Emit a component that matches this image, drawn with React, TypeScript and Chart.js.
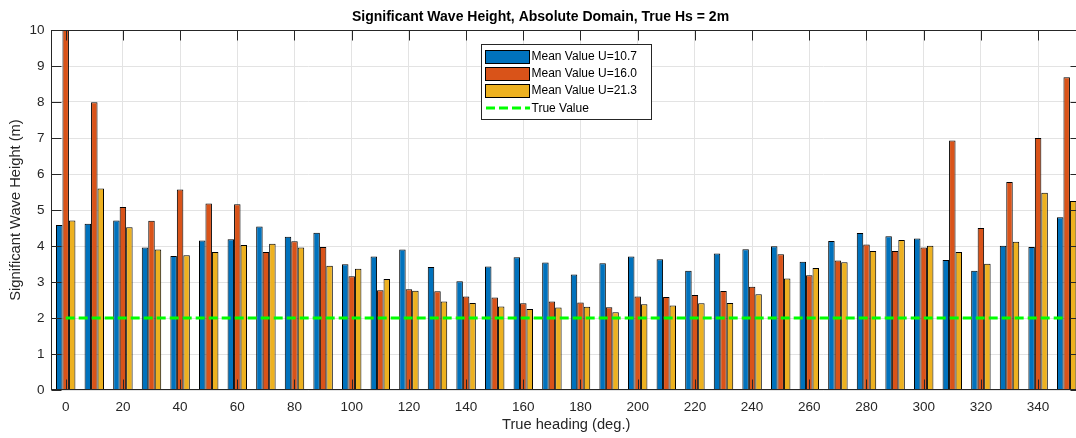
import React, { useEffect, useRef } from "react";
import { Chart, registerables } from "chart.js";

Chart.register(...registerables);

const headings = [0, 10, 20, 30, 40, 50, 60, 70, 80, 90, 100, 110, 120, 130, 140, 150, 160, 170, 180, 190, 200, 210, 220, 230, 240, 250, 260, 270, 280, 290, 300, 310, 320, 330, 340, 350];

const meanU107 = [4.58, 4.62, 4.71, 3.96, 3.72, 4.15, 4.19, 4.54, 4.26, 4.37, 3.49, 3.71, 3.9, 3.42, 3.02, 3.43, 3.69, 3.54, 3.21, 3.52, 3.71, 3.63, 3.31, 3.79, 3.91, 3.99, 3.56, 4.14, 4.36, 4.27, 4.21, 3.61, 3.31, 4.01, 3.97, 4.8];
const meanU160 = [10.2, 7.99, 5.08, 4.7, 5.57, 5.18, 5.16, 3.83, 4.13, 3.97, 3.16, 2.77, 2.8, 2.74, 2.6, 2.57, 2.41, 2.46, 2.43, 2.3, 2.6, 2.58, 2.64, 2.75, 2.87, 3.77, 3.19, 3.6, 4.04, 3.86, 3.96, 6.93, 4.5, 5.78, 7.0, 8.69];
const meanU213 = [4.71, 5.6, 4.52, 3.9, 3.74, 3.83, 4.03, 4.06, 3.96, 3.45, 3.37, 3.08, 2.76, 2.46, 2.42, 2.32, 2.25, 2.29, 2.31, 2.16, 2.38, 2.35, 2.41, 2.42, 2.66, 3.1, 3.39, 3.55, 3.86, 4.17, 4.01, 3.83, 3.51, 4.12, 5.48, 5.25];

const trueHeadings = [0, 350];
const trueValue = [2, 2];

const seriesLabels = ["Mean Value U=10.7", "Mean Value U=16.0", "Mean Value U=21.3", "True Value"];
const xTicks = [0, 20, 40, 60, 80, 100, 120, 140, 160, 180, 200, 220, 240, 260, 280, 300, 320, 340];
const yTicks = [0, 1, 2, 3, 4, 5, 6, 7, 8, 9, 10];

const FONT = "'Liberation Sans', Arial, Helvetica, sans-serif";
const AXIS = "#262626";
const COLORS = ["#0072BD", "#D95319", "#EDB120"];
const GREEN = "#00FF00";

const boxPlugin = {
  id: "matlabBox",
  afterDraw(chart: any) {
    const { ctx, chartArea } = chart;
    const { left, right, top, bottom } = chartArea;
    ctx.save();
    ctx.strokeStyle = AXIS;
    ctx.lineWidth = 1;
    ctx.setLineDash([]);
    const L = Math.round(left) + 0.5;
    const R = Math.round(right) - 0.5;
    const T = Math.round(top) + 0.5;
    const B = Math.round(bottom) - 0.5;
    ctx.strokeRect(L, T, R - L, B - T);
    const xs = chart.scales.x;
    const ys = chart.scales.y;
    ctx.beginPath();
    xs.ticks.forEach((t: any) => {
      const p = Math.round(xs.getPixelForValue(t.value)) + 0.5;
      ctx.moveTo(p, B);
      ctx.lineTo(p, B - 10);
      ctx.moveTo(p, T);
      ctx.lineTo(p, T + 10);
    });
    ys.ticks.forEach((t: any) => {
      const p = Math.round(ys.getPixelForValue(t.value)) + 0.5;
      ctx.moveTo(L, p);
      ctx.lineTo(L + 10, p);
      ctx.moveTo(R, p);
      ctx.lineTo(R - 10, p);
    });
    ctx.stroke();

    // legend
    const bx = 481.5, by = 44.5, bw = 170, bh = 75;
    ctx.fillStyle = "#ffffff";
    ctx.fillRect(bx, by, bw, bh);
    ctx.strokeStyle = AXIS;
    ctx.strokeRect(bx, by, bw, bh);
    const dsets = chart.data.datasets;
    const row0 = 56;
    const step = 17.3;
    ctx.font = `12px ${FONT}`;
    ctx.textBaseline = "middle";
    ctx.textAlign = "left";
    dsets.forEach((d: any, i: number) => {
      const cy = row0 + i * step;
      if (d.type === "bar") {
        ctx.fillStyle = d.backgroundColor;
        ctx.fillRect(485.5, Math.round(cy - 6.5) + 0.5, 44, 13);
        ctx.strokeStyle = "#000";
        ctx.lineWidth = 1;
        ctx.strokeRect(485.5, Math.round(cy - 6.5) + 0.5, 44, 13);
      } else {
        ctx.strokeStyle = d.borderColor;
        ctx.lineWidth = 3;
        ctx.setLineDash([9, 4]);
        ctx.beginPath();
        ctx.moveTo(486, Math.round(cy));
        ctx.lineTo(530, Math.round(cy));
        ctx.stroke();
        ctx.setLineDash([]);
      }
      ctx.fillStyle = "#000";
      ctx.fillText(d.label, 531.5, cy + 0.5);
    });
    ctx.restore();
  },
};

export default function App() {
  const ref = useRef<HTMLCanvasElement>(null);
  useEffect(() => {
    if (!ref.current) return;
    Chart.defaults.font.family = FONT;
    const barDs = [meanU107, meanU160, meanU213].map((vals, i) => ({
      type: "bar" as const,
      label: seriesLabels[i],
      data: headings.map((h, j) => ({ x: h, y: vals[j] })),
      backgroundColor: COLORS[i],
      borderColor: "#000000",
      borderWidth: 1,
      borderSkipped: "start" as const,
      barPercentage: 1.0,
      categoryPercentage: 0.68,
      order: 1,
    }));
    const lineDs = {
      type: "line" as const,
      label: seriesLabels[3],
      data: trueHeadings.map((h, j) => ({ x: h, y: trueValue[j] })),
      borderColor: GREEN,
      backgroundColor: GREEN,
      borderWidth: 3,
      borderDash: [9, 4],
      pointRadius: 0,
      fill: false,
      order: 0,
    };
    const chart = new Chart(ref.current, {
      type: "bar",
      data: { datasets: [...barDs, lineDs] as any },
      options: {
        animation: false,
        responsive: false,
        devicePixelRatio: 1,
        layout: { padding: 0 },
        plugins: {
          legend: { display: false },
          tooltip: { enabled: false },
          title: {
            display: true,
            text: "Significant Wave Height, Absolute Domain, True Hs = 2m",
            color: "#000",
            font: { size: 14, weight: "bold", family: FONT },
            padding: { top: 9, bottom: 4.2 },
          },
        },
        scales: {
          x: {
            type: "linear",
            offset: false,
            min: -5,
            max: 355,
            afterFit: (s: any) => {
              s.height = 48;
            },
            afterBuildTicks: (s: any) => {
              s.ticks = xTicks.map((v) => ({ value: v }));
            },
            ticks: {
              color: AXIS,
              font: { size: 13.5, family: FONT },
              padding: 9,
              maxRotation: 0,
              autoSkip: false,
              callback: (v: any) => String(v),
            },
            grid: { color: "#e3e3e3", lineWidth: 1, drawTicks: false, offset: false },
            border: { display: false },
            title: {
              display: true,
              text: "True heading (deg.)",
              color: AXIS,
              font: { size: 14.7, family: FONT },
              padding: { top: 0, bottom: 4 },
            },
          },
          y: {
            type: "linear",
            min: 0,
            max: 10,
            afterFit: (s: any) => {
              s.width = 51.4;
            },
            afterBuildTicks: (s: any) => {
              s.ticks = yTicks.map((v) => ({ value: v }));
            },
            ticks: {
              color: AXIS,
              font: { size: 13.5, family: FONT },
              padding: 7,
              callback: (v: any) => String(v),
            },
            grid: { color: "#e3e3e3", lineWidth: 1, drawTicks: false },
            border: { display: false },
            title: {
              display: true,
              text: "Significant Wave Height (m)",
              color: AXIS,
              font: { size: 14.7, family: FONT },
              padding: { top: 7, bottom: 0 },
            },
          },
        },
      } as any,
      plugins: [boxPlugin],
    });
    return () => chart.destroy();
  }, []);

  return (
    <div
      style={{
        position: "fixed",
        left: 0,
        top: 0,
        width: 1076,
        height: 438,
        overflow: "hidden",
        background: "#ffffff",
      }}
    >
      <canvas ref={ref} width={1081} height={438} style={{ display: "block", width: 1081, height: 438 }} />
    </div>
  );
}
